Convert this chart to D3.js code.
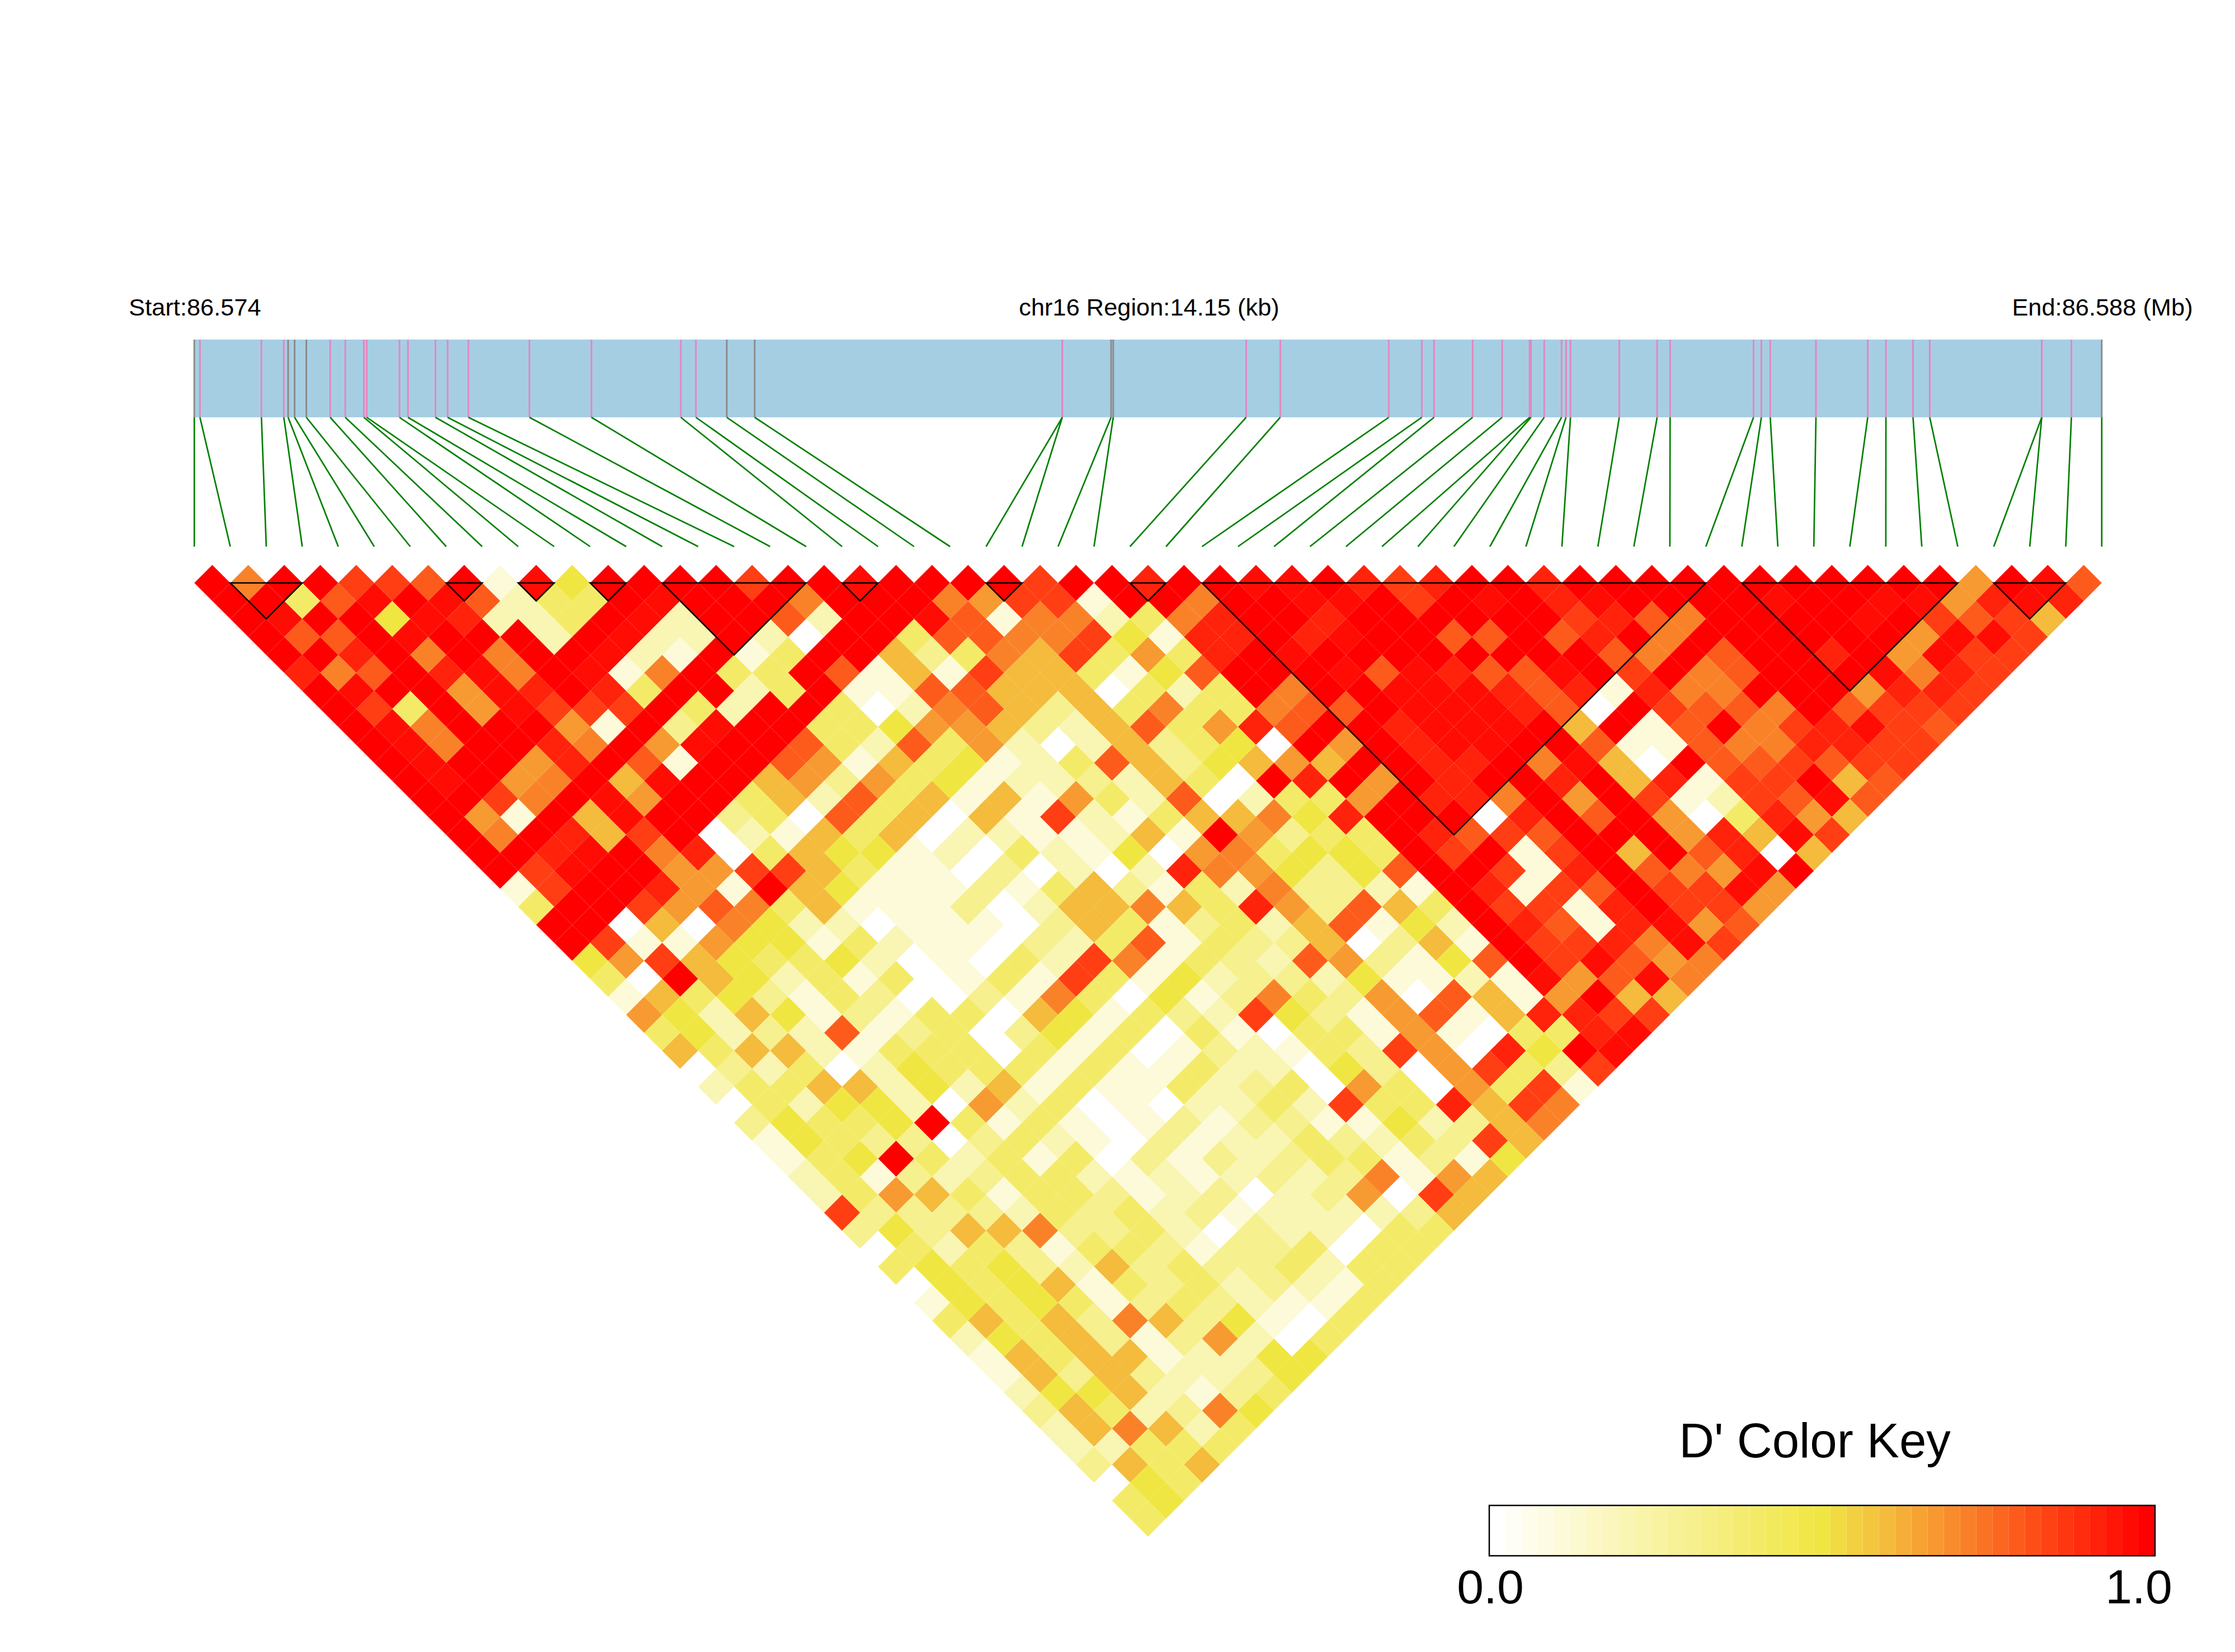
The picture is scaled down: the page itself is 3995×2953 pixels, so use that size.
<!DOCTYPE html>
<html>
<head>
<meta charset="utf-8">
<script src="https://cdn.jsdelivr.net/npm/d3@7"></script>
<style>
  html, body { margin: 0; background: #fff; }
  text { font-family: "Liberation Sans", Arial, sans-serif; fill: #000; }
</style>
</head>
<body>
<svg id="chart" width="3995" height="2953"></svg>
<script>
// snp offsets from the start of the region, in kb
const snpKb = [
  0, 0.042, 0.498, 0.664, 0.696, 0.744, 0.831, 1.008, 1.12, 1.258, 1.279, 1.522, 1.585, 1.789,
  1.879, 2.033, 2.486, 2.946, 3.609, 3.721, 3.95, 4.157, 6.439, 6.439, 6.801, 6.817, 7.803, 8.056,
  8.861, 9.106, 9.197, 9.483, 9.702, 9.906, 9.916, 10.014, 10.143, 10.176, 10.209, 10.571, 10.852,
  10.948, 11.567, 11.625, 11.691, 12.03, 12.414, 12.549, 12.75, 12.874, 13.705, 13.705, 13.925, 14.15
]
// snps drawn grey in the gene bar, the others are pink
const greySnps = [0, 4, 5, 6, 20, 21, 24, 25, 53]
// haplotype blocks, first and last snp
const blocks = [[1, 3], [7, 8], [9, 10], [11, 12], [13, 17], [18, 19], [22, 23], [26, 27], [28, 42], [43, 49], [50, 52]]

const regionKb = 14.15
const labelStart = "Start:86.574"
const labelRegion = "chr16 Region:14.15 (kb)"
const labelEnd = "End:86.588 (Mb)"
const keyTitle = "D' Color Key"
const keyTicks = ["0.0", "1.0"]
const keySteps = 41

// D': one code per cell, one string per distance between snps
const levelValues = {
  "0": 0, "1": 0.1, "2": 0.2, "3": 0.3, "4": 0.4, "5": 0.5, "6": 0.6, "7": 0.67,
  o: 0.72, "8": 0.8, r: 0.86, "9": 0.92, t: 0.97, X: 1
}
const dPrimeRows = [
  "XoXXrr8X1t5XXXXrXXtXXXXrXX9XXttX9r9XX9XXXXXXXXXXX7Xt8",
  "XX48tXt8244XtXXXoXXXo7rr1XXoXXttXrXtX9tXXXXtXXtt79t9",
  "XtXX5t9224Xt2XX82XXt81oo24o9XX9XXXXXXr98oXXXXtXr8r6",
  "X88XtXXX2Xt22X20XX488oor5199X9tXX88X89XoXXXXXX7ttr",
  "XX9XoXoXXt21X14XX634o6r4749XtXXXXXXXX8oX8XX9X7trr",
  "9o8X9toXt1oX44X8161r664158XXXt8t988tXrXo8XXXto9r",
  "XtXX7t9X94XX24X11886660424XoXXttt98919ooXXX799r",
  "Xr4X7trrrX42XX402o86364o44o88Xttt980Xr88oX8rrr",
  "XtoXXX71X3tXX44577632684798XX9tttX6X18Xor9tr8",
  "XtoXX9oX7tXX84284720263450X7X9ttXX8118oo99rr",
  "XtXX79X81XX8716451248635676XX99Xot60X88r8rr",
  "XtX7oX6tXX67374512232640X9X7X9XX9X691rrX68",
  "XXroXt7XX462846161742802447X99oX7Xr12r8t8",
  "X71X6tXX340846061r21466o59XXX09X8X704976",
  "XoX96rX02164602211261X7344X98r8XXX796tr",
  "XX9tXo904655120421507o4554XrX1rX6X8906",
  "XrtXX77rr64110302029o75358XXr19X8o7tX",
  "1rXX971X6511131463142o3321X91r8Xrrt7",
  "4XXr78o4611130266o64973864Xrr19Xrr7",
  "XX060o52201110364134268152X9819t78",
  "Xr117551421103248143360361Xrr9otr",
  "57r65445201042ro1432873158Xrt87o",
  "40X6524140141r415233251121t78to",
  "164531430031o40513o43708617X66",
  "75265131440651432r531781699rr",
  "452328134035140410441710449t",
  "64662144404140132143r7095Xt",
  "0324025444141142205307r43r",
  "24466252614114234074074r1",
  "04255207240102242r4496ro",
  "35445X4141013133115236o",
  "15433034210312243243r6",
  "145X42414031323441315",
  "2413234421212323o176",
  "24764144312302370r6",
  "r33332434231222236",
  "35366o33420322044",
  "0424314431334044",
  "454532634334244",
  "05456143423214",
  "1545413432114",
  "46463o635104",
  "25463137204",
  "1646612255",
  "163632235",
  "25562134",
  "36423o5",
  "26o624",
  "22444",
  "3646",
  "054",
  "45",
  "4"
]

const svg = d3.select("#chart")
const nSnps = snpKb.length

// scales
const snpScale = d3.scaleLinear().domain([0, nSnps - 1]).range([347.3, 3756.8])
const kbScale = d3.scaleLinear().domain([0, regionKb]).range([347.3, 3756.8])
const halfCell = (snpScale(1) - snpScale(0)) / 2
const rowScale = d3.scaleLinear().domain([1, nSnps - 1]).range([1042, 1042 + (nSnps - 2) * halfCell])
const color = d3.scaleLinear()
  .domain([0, 0.5, 0.6, 0.7, 0.85, 1])
  .range(["#ffffff", "#f0e642", "#f4bb3c", "#f88c2c", "#ff4214", "#ff0000"])

// gene bar
const barTop = 607
const barBottom = 746
const linksBottom = 977

svg.append("rect")
  .attr("x", kbScale(0))
  .attr("y", barTop)
  .attr("width", kbScale(regionKb) - kbScale(0))
  .attr("height", barBottom - barTop)
  .attr("fill", "#a6cee3")

svg.append("g")
  .selectAll("line")
  .data(snpKb.map((kb, i) => ({kb, i})))
  .enter()
  .append("line")
  .attr("x1", d => kbScale(d.kb))
  .attr("x2", d => kbScale(d.kb))
  .attr("y1", barTop)
  .attr("y2", barBottom)
  .attr("stroke", d => (greySnps.includes(d.i) ? "#8c8c8c" : "#e487bf"))
  .attr("stroke-width", 3)

// links from the bar to the heatmap
svg.append("g")
  .selectAll("line")
  .data(snpKb.map((kb, i) => ({kb, i})))
  .enter()
  .append("line")
  .attr("x1", d => kbScale(d.kb))
  .attr("y1", barBottom)
  .attr("x2", d => snpScale(d.i))
  .attr("y2", linksBottom)
  .attr("stroke", "#008000")
  .attr("stroke-width", 2.7)

// heatmap cells
const cells = dPrimeRows.flatMap((row, r) =>
  Array.from(row, (code, k) => ({a: k, b: k + r + 1, value: levelValues[code]}))
)

svg.append("g")
  .selectAll("polygon")
  .data(cells)
  .enter()
  .append("polygon")
  .attr("points", d => {
    const cx = (snpScale(d.a) + snpScale(d.b)) / 2
    const cy = rowScale(d.b - d.a)
    return [[cx, cy - halfCell], [cx + halfCell, cy], [cx, cy + halfCell], [cx - halfCell, cy]].join(" ")
  })
  .attr("fill", d => color(d.value))

// block outlines
svg.append("g")
  .selectAll("polygon")
  .data(blocks)
  .enter()
  .append("polygon")
  .attr("points", ([a, b]) => {
    const xa = snpScale(a)
    const xb = snpScale(b)
    return [[xa, rowScale(1)], [xb, rowScale(1)], [(xa + xb) / 2, rowScale(1) + (xb - xa) / 2]].join(" ")
  })
  .attr("fill", "none")
  .attr("stroke", "#000")
  .attr("stroke-width", 2.5)

// header labels
const headerY = 564
svg.append("text").attr("x", 348.5).attr("y", headerY).attr("text-anchor", "middle").attr("font-size", 43.4).text(labelStart)
svg.append("text").attr("x", 2054).attr("y", headerY).attr("text-anchor", "middle").attr("font-size", 43.4).text(labelRegion)
svg.append("text").attr("x", 3758).attr("y", headerY).attr("text-anchor", "middle").attr("font-size", 43.4).text(labelEnd)

// colour key
const keyLeft = 2662
const keyRight = 3852
const keyTop = 2691
const keyBottom = 2781
const keyScale = d3.scaleBand().domain(d3.range(keySteps)).range([keyLeft, keyRight])

svg.append("g")
  .selectAll("rect")
  .data(d3.range(keySteps))
  .enter()
  .append("rect")
  .attr("x", d => keyScale(d))
  .attr("y", keyTop)
  .attr("width", keyScale.bandwidth())
  .attr("height", keyBottom - keyTop)
  .attr("fill", d => color(d / (keySteps - 1)))

svg.append("rect")
  .attr("x", keyLeft)
  .attr("y", keyTop)
  .attr("width", keyRight - keyLeft)
  .attr("height", keyBottom - keyTop)
  .attr("fill", "none")
  .attr("stroke", "#000")
  .attr("stroke-width", 2.5)

svg.append("text").attr("x", 3244).attr("y", 2605).attr("text-anchor", "middle").attr("font-size", 87).text(keyTitle)
svg.append("text").attr("x", 2664).attr("y", 2866).attr("text-anchor", "middle").attr("font-size", 86).text(keyTicks[0])
svg.append("text").attr("x", 3823).attr("y", 2866).attr("text-anchor", "middle").attr("font-size", 86).text(keyTicks[1])
</script>
</body>
</html>
